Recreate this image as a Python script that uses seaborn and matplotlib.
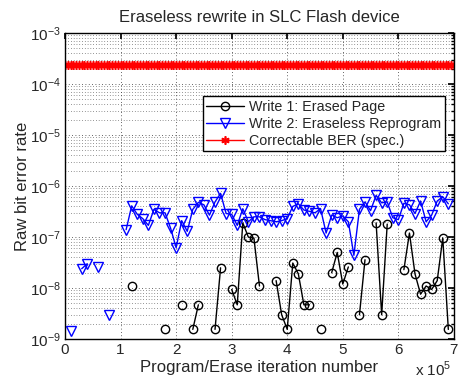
import numpy as np
import pandas as pd
import seaborn as sns
import matplotlib.pyplot as plt
from matplotlib.ticker import LogLocator, NullFormatter

sns.set_theme(style="white")
plt.rcParams["font.family"] = ["Liberation Sans", "DejaVu Sans"]
plt.rcParams["mathtext.fontset"] = "custom"
plt.rcParams["mathtext.rm"] = "Liberation Sans"

# iteration index is in units of 1e4 program/erase cycles
write1_iter = [12, 18, 21, 23, 24, 27, 28, 30, 31, 32, 33, 34, 35, 38, 39, 40, 41, 42, 43,
               44, 46, 48, 49, 50, 51, 53, 54, 56, 57, 58, 61, 62, 63, 64, 65, 66, 67, 68, 69]
write1_ber = [1.1e-8, 1.55e-9, 4.7e-9, 1.55e-9, 4.7e-9, 1.55e-9, 2.5e-8, 9.4e-9, 4.7e-9,
              1.9e-7, 1.0e-7, 9.6e-8, 1.1e-8, 1.4e-8, 3.0e-9, 1.55e-9, 3.1e-8, 1.9e-8,
              4.7e-9, 4.7e-9, 1.55e-9, 2.0e-8, 5.0e-8, 1.2e-8, 2.6e-8, 3.0e-9, 3.6e-8,
              1.9e-7, 3.0e-9, 1.8e-7, 2.3e-8, 1.2e-7, 1.9e-8, 7.6e-9, 1.1e-8, 9.4e-9,
              1.4e-8, 9.6e-8, 1.55e-9]

write2_iter = [1, 3, 4, 6, 8] + list(range(11, 70))
write2_ber = [1.45e-9, 2.4e-8, 3.0e-8, 2.6e-8, 3.0e-9,
              1.4e-7, 4.1e-7, 2.8e-7, 2.3e-7, 1.7e-7, 3.5e-7, 3.0e-7, 3.0e-7, 1.5e-7, 6.2e-8,
              2.1e-7, 1.3e-7, 3.5e-7, 4.8e-7, 4.3e-7, 2.7e-7, 4.9e-7, 7.2e-7, 2.9e-7, 2.8e-7,
              1.7e-7, 3.6e-7, 2.0e-7, 2.5e-7, 2.5e-7, 2.2e-7, 2.1e-7, 2.0e-7, 2.1e-7, 2.3e-7,
              4.0e-7, 4.5e-7, 3.4e-7, 3.2e-7, 3.0e-7, 3.6e-7, 1.2e-7, 2.7e-7, 2.4e-7, 2.6e-7,
              2.0e-7, 4.4e-8, 3.5e-7, 4.9e-7, 3.3e-7, 6.6e-7, 4.7e-7, 4.9e-7, 2.4e-7, 2.2e-7,
              4.6e-7, 4.3e-7, 2.9e-7, 5.1e-7, 2.0e-7, 2.7e-7, 5.1e-7, 6.2e-7, 4.5e-7]

spec_iter = list(np.arange(0, 70.5, 0.5))
spec_ber = [2.35e-4] * len(spec_iter)


def to_frame(iters, ber):
    df = pd.DataFrame({"x": np.array(iters, dtype=float) * 1e4, "y": ber})
    # split into runs of consecutive samples so gaps are not bridged
    df["seg"] = (np.diff(np.r_[-10.0, iters]) > 1.01).cumsum()
    return df


fig = plt.figure(figsize=(4.58, 3.81), dpi=100)
ax = fig.add_axes([0.142, 0.110, 0.849, 0.803])

w1 = to_frame(write1_iter, write1_ber)
w2 = to_frame(write2_iter, write2_ber)
sp = pd.DataFrame({"x": np.array(spec_iter) * 1e4, "y": spec_ber})

sns.lineplot(data=w1, x="x", y="y", units="seg", estimator=None, ax=ax, color="black",
             lw=1, marker="o", markersize=6, markerfacecolor="none", markeredgecolor="black",
             markeredgewidth=1, label="Write 1: Erased Page")
sns.lineplot(data=w2, x="x", y="y", units="seg", estimator=None, ax=ax, color="blue",
             lw=1, marker="v", markersize=6.5, markerfacecolor="none", markeredgecolor="blue",
             markeredgewidth=1, label="Write 2: Eraseless Reprogram")
sns.lineplot(data=sp, x="x", y="y", estimator=None, ax=ax, color="red", lw=1,
             marker=(6, 2, 0), markersize=6, markeredgecolor="red", markerfacecolor="red",
             markeredgewidth=1.2, label="Correctable BER (spec.)")

ax.set_yscale("log")
ax.set_xlim(0, 7e5)
ax.set_ylim(1e-9, 1e-3)
ax.set_xticks(np.arange(0, 8) * 1e5)
ax.set_xticklabels([str(i) for i in range(8)])
ax.yaxis.set_major_locator(LogLocator(base=10, numticks=10))
ax.yaxis.set_minor_locator(LogLocator(base=10, subs=np.arange(2, 10), numticks=100))
ax.yaxis.set_minor_formatter(NullFormatter())

ax.grid(True, which="major", axis="both", ls=(0, (1, 3)), color="#333333", lw=0.6)
ax.grid(True, which="minor", axis="y", ls=(0, (1, 3)), color="#333333", lw=0.5)
ax.tick_params(which="both", direction="in", top=True, right=True, labelsize=11,
               color="black", pad=3)
ax.tick_params(which="major", length=4)
ax.tick_params(which="minor", length=2)
for s in ax.spines.values():
    s.set_color("black")
    s.set_linewidth(1)

ax.set_title("Eraseless rewrite in SLC Flash device", fontsize=12, pad=8)
ax.set_xlabel("Program/Erase iteration number", fontsize=12, labelpad=2)
ax.set_ylabel("Raw bit error rate", fontsize=12, labelpad=0)
fig.text(0.985, 0.005, r"x 10$^5$", ha="right", va="bottom", fontsize=11)

handles, labels = ax.get_legend_handles_labels()
uniq = dict(zip(labels, handles))
leg = ax.legend(uniq.values(), uniq.keys(), loc="upper right",
                bbox_to_anchor=(0.977, 0.793), fontsize=10.3, frameon=True, fancybox=False,
                edgecolor="black", framealpha=1, borderpad=0.25, labelspacing=0.2,
                handlelength=2.6, handletextpad=0.4, borderaxespad=0)
leg.get_frame().set_linewidth(1)

fig.savefig("out.png", dpi=100)
